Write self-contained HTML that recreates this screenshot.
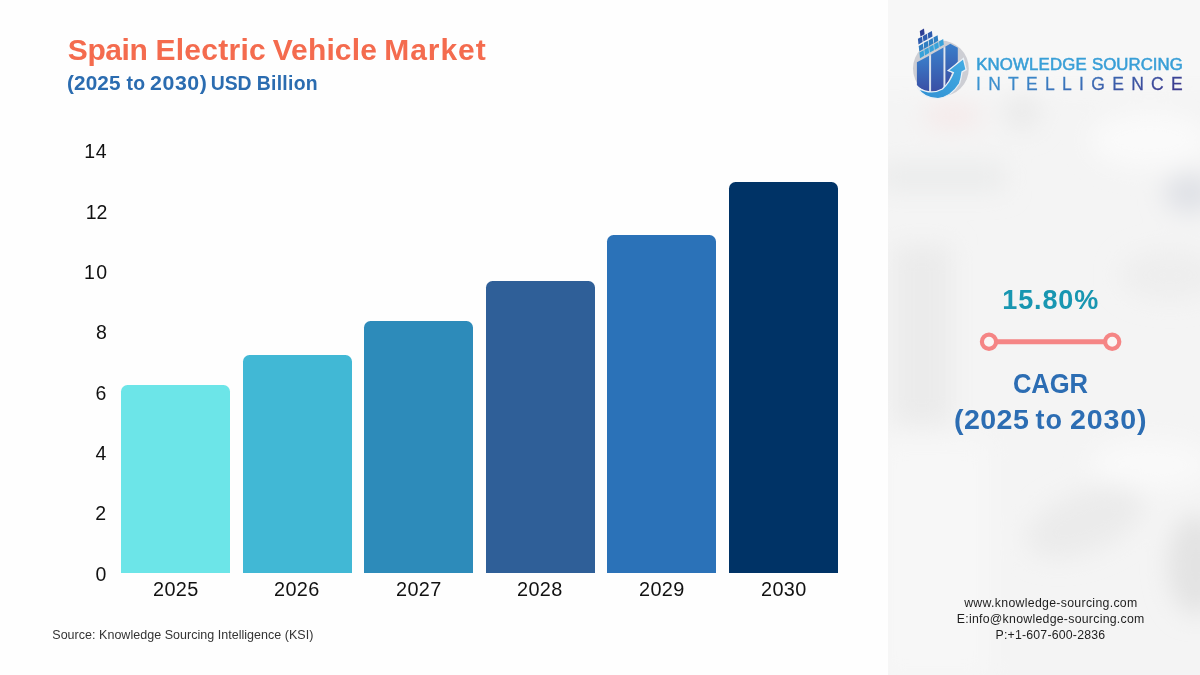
<!DOCTYPE html>
<html lang="en">
<head>
<meta charset="utf-8">
<title>Spain Electric Vehicle Market</title>
<style>
*{margin:0;padding:0;box-sizing:border-box}
html,body{width:1200px;height:675px;overflow:hidden;background:#fefefe;font-family:"Liberation Sans",sans-serif}
#page{position:relative;width:1200px;height:675px;overflow:hidden;background:#fefefe}
.w{position:absolute;white-space:nowrap;line-height:1;transform-origin:0 50%;display:block}
#title{color:#f46b4e;font-weight:bold}
#subtitle{color:#2b6cb0;font-weight:bold}
#yaxis,#xaxis{color:#111}
.bar{position:absolute;width:109px;border-radius:6.5px 6.5px 0 0}
#source{color:#333}
#panel{position:absolute;left:888px;top:0;width:312px;height:675px;overflow:hidden;background:#f4f4f4}
#cagr-val{color:#1896b1;font-weight:bold}
#cagr-lab{color:#2c6db3;font-weight:bold}
#contact{color:#1e1e1e}
.g1{color:#399fd7;-webkit-text-stroke:0.55px #399fd7}
.g2{color:transparent;background:linear-gradient(155deg,#3c9ad5 0%,#3a72ba 45%,#3b3a8e 88%);-webkit-background-clip:text;background-clip:text;-webkit-text-stroke:0.3px transparent}
</style>
</head>
<body>
<div id="page">
  <h1 id="title"><span class="w" style="left:67.83px;top:35px;font-size:30px;letter-spacing:-0.444px;">Spain</span> <span class="w" style="left:155.40px;top:35px;font-size:30px;letter-spacing:0.271px;">Electric</span> <span class="w" style="left:272.65px;top:35px;font-size:30px;letter-spacing:0.129px;">Vehicle</span> <span class="w" style="left:384.30px;top:35px;font-size:30px;letter-spacing:0.945px;">Market</span></h1>
  <h2 id="subtitle"><span class="w" style="left:67.43px;top:74px;font-size:19.4px;letter-spacing:0.103px;transform:scaleX(1.07);">(2025</span> <span class="w" style="left:126.55px;top:74px;font-size:19.4px;letter-spacing:0.350px;">to</span> <span class="w" style="left:150.01px;top:74px;font-size:19.4px;letter-spacing:0.523px;transform:scaleX(1.1);">2030)</span> <span class="w" style="left:210.78px;top:74px;font-size:19.4px;letter-spacing:-0.050px;">USD</span> <span class="w" style="left:256.75px;top:74px;font-size:19.4px;letter-spacing:0.275px;">Billion</span></h2>
  <div id="yaxis">
  <span class="w" style="left:84.20px;top:142px;font-size:19.5px;letter-spacing:0.675px;">14</span>
  <span class="w" style="left:85.80px;top:203px;font-size:19.5px;letter-spacing:-0.050px;">12</span>
  <span class="w" style="left:84.10px;top:263px;font-size:19.5px;letter-spacing:1.425px;">10</span>
  <span class="w" style="left:95.92px;top:323px;font-size:19.5px;letter-spacing:0.000px;">8</span>
  <span class="w" style="left:95.60px;top:384px;font-size:19.5px;letter-spacing:0.000px;">6</span>
  <span class="w" style="left:95.50px;top:444px;font-size:19.5px;letter-spacing:0.000px;">4</span>
  <span class="w" style="left:95.30px;top:504px;font-size:19.5px;letter-spacing:0.000px;">2</span>
  <span class="w" style="left:95.45px;top:565px;font-size:19.5px;letter-spacing:0.000px;">0</span>
  </div>
  <div id="bars">
  <div class="bar" style="left:121.3px;top:385.0px;height:187.7px;background:#6ce5e8"></div>
  <div class="bar" style="left:242.8px;top:355.2px;height:217.5px;background:#41b8d5"></div>
  <div class="bar" style="left:364.2px;top:321.1px;height:251.6px;background:#2d8bba"></div>
  <div class="bar" style="left:485.8px;top:281.0px;height:291.7px;background:#2f5f98"></div>
  <div class="bar" style="left:607.4px;top:235.4px;height:337.3px;background:#2b72b8"></div>
  <div class="bar" style="left:729.0px;top:181.7px;height:391.0px;background:#003366"></div>
  </div>
  <div id="xaxis">
  <span class="w" style="left:152.97px;top:580px;font-size:19.3px;letter-spacing:0.337px;transform:scaleX(1.03);">2025</span>
  <span class="w" style="left:274.47px;top:580px;font-size:19.3px;letter-spacing:0.337px;transform:scaleX(1.03);">2026</span>
  <span class="w" style="left:395.87px;top:580px;font-size:19.3px;letter-spacing:0.379px;transform:scaleX(1.03);">2027</span>
  <span class="w" style="left:517.47px;top:580px;font-size:19.3px;letter-spacing:0.337px;transform:scaleX(1.03);">2028</span>
  <span class="w" style="left:639.07px;top:580px;font-size:19.3px;letter-spacing:0.379px;transform:scaleX(1.03);">2029</span>
  <span class="w" style="left:760.67px;top:580px;font-size:19.3px;letter-spacing:0.337px;transform:scaleX(1.03);">2030</span>
  </div>
  <p id="source"><span class="w" style="left:52.27px;top:629px;font-size:12.5px;letter-spacing:0.027px;">Source: Knowledge Sourcing Intelligence (KSI)</span></p>

  <div id="panel">
    <svg class="w" style="left:0;top:0" width="312" height="675" viewBox="888 0 312 675">
      <defs><filter id="bl" x="-50%" y="-50%" width="200%" height="200%"><feGaussianBlur stdDeviation="12"/></filter></defs>
      <rect x="888" y="0" width="312" height="675" fill="#f4f4f4"/>
      <g filter="url(#bl)">
        <rect x="860" y="-40" width="380" height="130" fill="#f7f7f7"/>
        <ellipse cx="952" cy="116" rx="30" ry="12" fill="#f5e9e9"/>
        <ellipse cx="1022" cy="112" rx="18" ry="18" fill="#eaeaea"/>
        <ellipse cx="1150" cy="140" rx="60" ry="28" fill="#fafafa"/>
        <rect x="880" y="163" width="125" height="28" fill="#ebecec"/>
        <ellipse cx="1190" cy="193" rx="26" ry="20" fill="#dfe1e6"/>
        <ellipse cx="1170" cy="275" rx="50" ry="25" fill="#eeeeee"/>
        <rect x="893" y="245" width="58" height="180" fill="#ebebeb"/>
        <ellipse cx="1196" cy="565" rx="28" ry="50" fill="#e3e3e3"/>
        <ellipse cx="1085" cy="522" rx="62" ry="30" fill="#ebebeb" transform="rotate(-22 1085 522)"/>
        <ellipse cx="1150" cy="465" rx="60" ry="25" fill="#f9f9f9"/>
        <rect x="880" y="440" width="110" height="240" fill="#f7f7f7"/>
      </g>
    </svg>
    <svg class="w" style="left:12px;top:15px" width="80" height="95" viewBox="900 15 80 95">
      <defs>
        <linearGradient id="hull" x1="0" y1="0" x2="0" y2="1"><stop offset="0" stop-color="#3a7fcb"/><stop offset="1" stop-color="#3a4ea4"/></linearGradient>
        <linearGradient id="arr" x1="0" y1="1" x2="1" y2="0"><stop offset="0" stop-color="#2f8fd2"/><stop offset="1" stop-color="#45ade4"/></linearGradient>
      </defs>
      <circle cx="940.9" cy="68.5" r="27.9" fill="#cdced4"/>
      <path fill="url(#hull)" d="M916.9 62.3 L929.1 55.8 L929.1 92.2 Q921 90 916.9 85 Z"/>
      <path fill="url(#hull)" d="M931.1 54.6 L943.5 47.6 L943.5 90.5 Q937 92.8 931.1 92.4 Z"/>
      <path fill="url(#hull)" d="M945.4 46.6 L950.3 43.7 L957.8 47.8 L957.8 61.5 Q954 66 949.5 70.5 L952 73 Q949.5 80 945.4 86 Z"/>
      <path d="M930.1 55.5 V92.3 M944.45 47.4 V90.3" stroke="#dde7f5" stroke-width="1.3" fill="none"/>
      <polygon fill="#2e3f95" points="919.8,31.0 924.0,28.6 924.6,34.2 920.4,36.6"/>
      <polygon fill="#2f5cae" points="917.9,38.8 922.1,36.4 922.7,42.0 918.5,44.4"/>
      <polygon fill="#2f5cae" points="922.8,36.0 927.0,33.7 927.6,39.2 923.4,41.6"/>
      <polygon fill="#2f5cae" points="927.7,33.3 931.9,30.9 932.5,36.4 928.3,38.8"/>
      <polygon fill="#2f7ec2" points="918.7,45.9 922.9,43.5 923.5,49.1 919.3,51.5"/>
      <polygon fill="#2f7ec2" points="923.6,43.1 927.8,40.8 928.4,46.3 924.2,48.7"/>
      <polygon fill="#2f7ec2" points="928.5,40.4 932.7,38.0 933.3,43.5 929.1,45.9"/>
      <polygon fill="#2f7ec2" points="933.4,37.6 937.6,35.2 938.2,40.8 934.0,43.2"/>
      <polygon fill="#38a2da" points="919.4,52.6 923.6,50.2 924.2,55.8 920.0,58.2"/>
      <polygon fill="#38a2da" points="924.3,49.8 928.5,47.5 929.1,53.0 924.9,55.4"/>
      <polygon fill="#38a2da" points="929.2,47.1 933.4,44.7 934.0,50.2 929.8,52.6"/>
      <polygon fill="#38a2da" points="934.1,44.3 938.3,41.9 938.9,47.5 934.7,49.9"/>
      <polygon fill="#38a2da" points="939.0,41.5 943.2,39.1 943.8,44.7 939.6,47.1"/>
      <path fill="url(#arr)" stroke="#eaf0f6" stroke-width="1.3" d="M963.4 58.5 L948.2 70.6 L953.4 72.6 Q950 82 942.4 89 Q931 95.5 917.3 87.6 Q924 98.6 938 98.6 Q951 97 959.5 83.5 Q961.3 78 962 72 L966.1 69.6 Z"/>
    </svg>
    <div id="brand"><span class="w g1" style="left:88.23px;top:57px;font-size:16.8px;letter-spacing:0.159px;">KNOWLEDGE</span> <span class="w g1" style="left:204.05px;top:57px;font-size:16.8px;letter-spacing:0.029px;">SOURCING</span>
    <span class="w g2" style="left:87.98px;top:76px;font-size:17.5px;letter-spacing:7.300px;">INTELLIGENCE</span></div>
    <div id="cagr-val"><span class="w" style="left:114.25px;top:287px;font-size:27px;letter-spacing:0.875px;">15.80%</span></div>
    <svg class="w" style="left:85px;top:328px" width="150" height="28" viewBox="0 0 150 28">
      <line x1="16" y1="13.8" x2="139" y2="13.8" stroke="#f58585" stroke-width="4.9"/>
      <circle cx="16" cy="13.8" r="7.1" fill="#faf6f5" stroke="#f58585" stroke-width="4.2"/>
      <circle cx="139.2" cy="13.8" r="7.1" fill="#faf6f5" stroke="#f58585" stroke-width="4.2"/>
    </svg>
    <div id="cagr-lab"><span class="w" style="left:125.15px;top:370px;font-size:27.5px;letter-spacing:-0.144px;transform:scaleX(0.93);">CAGR</span>
    <span class="w" style="left:66.34px;top:407px;font-size:27px;letter-spacing:0.380px;transform:scaleX(1.06);">(2025</span> <span class="w" style="left:147.42px;top:407px;font-size:27px;letter-spacing:1.000px;">to</span> <span class="w" style="left:181.87px;top:407px;font-size:27px;letter-spacing:0.781px;transform:scaleX(1.06);">2030)</span></div>
    <div id="contact"><span class="w" style="left:76.20px;top:597px;font-size:12.3px;letter-spacing:0.307px;">www.knowledge-sourcing.com</span>
    <span class="w" style="left:68.80px;top:613px;font-size:12.3px;letter-spacing:0.271px;">E:info@knowledge-sourcing.com</span>
    <span class="w" style="left:107.50px;top:629px;font-size:12.3px;letter-spacing:0.209px;">P:+1-607-600-2836</span></div>
  </div>
</div>
</body>
</html>
